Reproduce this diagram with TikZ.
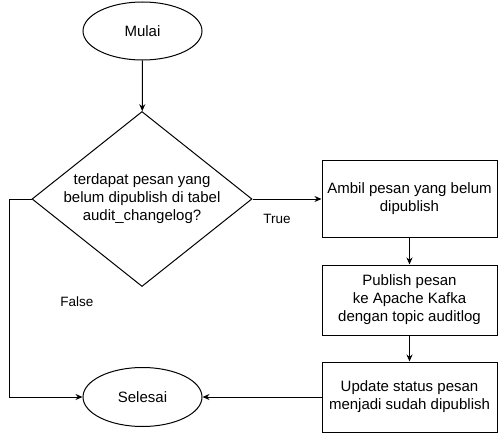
\documentclass[tikz,border=0pt]{standalone}
\usepackage{fontspec}
\setmainfont{Liberation Sans}
\usetikzlibrary{arrows.meta,positioning,shapes.geometric}
\tikzset{
  terminal/.style={draw, ellipse, minimum width=119pt, minimum height=58pt, inner sep=0pt},
  keputusan/.style={draw, diamond, aspect=1.26, minimum width=220pt, minimum height=175pt, inner sep=0pt, align=center},
  proses/.style={draw, rectangle, minimum width=175pt, inner sep=2pt, align=center},
  panah/.style={draw, -{Stealth[length=7pt, width=6pt]}},
  ket/.style={font=\fontsize{13.5}{16}\selectfont}
}

\begin{document}
\begin{tikzpicture}[x=1pt, y=-1pt, line width=1pt, font=\fontsize{15}{18}\selectfont]
\useasboundingbox (0,0) rectangle (498,433);
\node[terminal] (mulai) at (142.5,31) {Mulai};
\node[keputusan] (cek) at (142,199) {terdapat pesan yang\\belum dipublish di tabel\\audit\_changelog?};
\node[proses, minimum height=76pt] (ambil) at (409.5,199) {Ambil pesan yang belum\\dipublish};
\node[proses, minimum height=70pt] (publish) at (409.5,300) {Publish pesan\\ke Apache Kafka\\dengan topic auditlog};
\node[proses, minimum height=70pt] (update) at (409.5,397) {Update status pesan\\menjadi sudah dipublish};
\node[terminal, minimum height=59pt] (selesai) at (142.5,397) {Selesai};
\coordinate (belok) at (9,397);
\draw[panah] (mulai) -- (cek);
\draw[panah] (cek.east) -- (ambil.west);
\draw[panah] (ambil) -- (publish);
\draw[panah] (publish) -- (update);
\draw[panah] (update) -- (selesai);
\draw[panah] (cek.west) -| (belok) -- (selesai.west);
\node[ket] (lbltrue) at (277,219) {True};
\node[ket] (lblfalse) at (77,302) {False};
\end{tikzpicture}
\end{document}
